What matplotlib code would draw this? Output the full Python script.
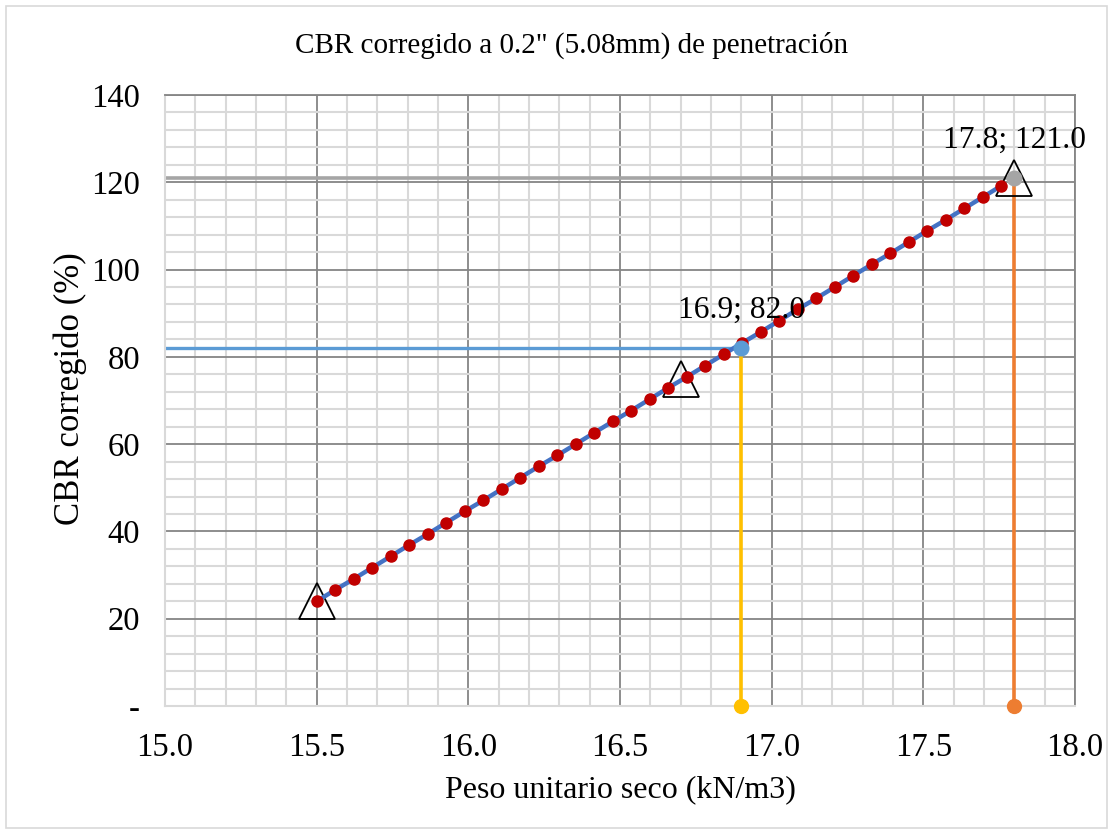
import numpy as np
import matplotlib
matplotlib.use("Agg")
import matplotlib.pyplot as plt
from matplotlib.ticker import MultipleLocator, FixedLocator, FixedFormatter
from matplotlib.patches import Rectangle

plt.rcParams["font.family"] = ["Liberation Serif", "DejaVu Serif"]

fit_x = [15.500, 15.561, 15.622, 15.683, 15.744, 15.805, 15.866, 15.927, 15.988, 16.049,
         16.110, 16.171, 16.232, 16.293, 16.354, 16.415, 16.476, 16.537, 16.598, 16.659,
         16.720, 16.781, 16.842, 16.903, 16.964, 17.025, 17.086, 17.147, 17.208, 17.269,
         17.330, 17.391, 17.452, 17.513, 17.574, 17.635, 17.696, 17.757]
fit_y = [24.0, 26.6, 29.1, 31.7, 34.3, 36.9, 39.4, 42.0, 44.6, 47.1,
         49.7, 52.3, 54.9, 57.4, 60.0, 62.6, 65.2, 67.7, 70.3, 72.9,
         75.4, 78.0, 80.6, 83.2, 85.7, 88.3, 90.9, 93.4, 96.0, 98.6,
         101.2, 103.7, 106.3, 108.9, 111.4, 114.0, 116.6, 119.2]

# lab test points (triangles)
test_x = [15.5, 16.7, 17.8]
test_y = [24.0, 75.0, 121.0]

# design points
p95_x, p95_y = 16.9, 82.0     # 95% MDD
p100_x, p100_y = 17.8, 121.0  # 100% MDD

x_ticks = [15.0, 15.5, 16.0, 16.5, 17.0, 17.5, 18.0]
y_ticks = [0, 20, 40, 60, 80, 100, 120, 140]
y_ticklabels = ["-", "20", "40", "60", "80", "100", "120", "140"]

fig = plt.figure(figsize=(11.13, 8.34), dpi=100)
ax = fig.add_axes([165 / 1113, 1 - 706 / 834, (1075 - 165) / 1113, (706 - 95) / 834])

ax.set_xlim(15.0, 18.0)
ax.set_ylim(0, 140)
ax.xaxis.set_major_locator(FixedLocator(x_ticks))
ax.set_xticklabels([f"{v:.1f}" for v in x_ticks])
ax.yaxis.set_major_locator(FixedLocator(y_ticks))
ax.yaxis.set_major_formatter(FixedFormatter(y_ticklabels))
ax.xaxis.set_minor_locator(MultipleLocator(0.1))
ax.yaxis.set_minor_locator(MultipleLocator(4))
ax.grid(True, which="minor", color="#D9D9D9", lw=1.5, zorder=0)
ax.grid(True, which="major", color="#858585", lw=1.3, zorder=0)
ax.set_axisbelow(True)
ax.tick_params(which="both", length=0, labelsize=23.5)
ax.tick_params(axis="x", pad=19)
ax.tick_params(axis="y", pad=18)
for s in ("left", "bottom"):
    ax.spines[s].set_color("#D9D9D9")
    ax.spines[s].set_linewidth(1.5)
for s in ("top", "right"):
    ax.spines[s].set_color("#858585")
    ax.spines[s].set_linewidth(1.3)

# reference lines
ax.plot([15.0, p100_x], [p100_y, p100_y], color="#A5A5A5", lw=2.6, zorder=2)
ax.plot([15.0, p95_x], [p95_y, p95_y], color="#5B9BD5", lw=2.4, zorder=2)
ax.plot([p95_x, p95_x], [0, p95_y], color="#FFC000", lw=2.6, zorder=2)
ax.plot([p100_x, p100_x], [0, p100_y], color="#ED7D31", lw=2.6, zorder=2)
ax.plot([p95_x], [0], "o", color="#FFC000", ms=10, zorder=3, clip_on=False)
ax.plot([p100_x], [0], "o", color="#ED7D31", ms=10, zorder=3, clip_on=False)

# test triangles
ax.plot(test_x, test_y, "^", ms=26, mfc="none", mec="black", mew=1.3, ls="none", zorder=3)

# fitted line with markers
ax.plot(fit_x, fit_y, "-", color="#4472C4", lw=3.2, zorder=4)
ax.plot(fit_x, fit_y, "o", color="#C00000", ms=8, ls="none", zorder=5)

ax.plot([p95_x], [p95_y], "o", color="#5B9BD5", ms=10.5, zorder=6)
ax.plot([p100_x], [p100_y], "o", color="#A5A5A5", ms=10.5, zorder=6)

ax.annotate(f"{p95_x:.1f}; {p95_y:.1f}", (p95_x, p95_y), textcoords="offset points",
            xytext=(0, 27), ha="center", va="center", fontsize=22.7, zorder=7)
ax.annotate(f"{p100_x:.1f}; {p100_y:.1f}", (p100_x, p100_y), textcoords="offset points",
            xytext=(0, 27), ha="center", va="center", fontsize=22.7, zorder=7,
            annotation_clip=False)

ax.set_xlabel("Peso unitario seco (kN/m3)", fontsize=23, labelpad=9)
ax.set_ylabel("CBR corregido (%)", fontsize=25)
ax.yaxis.set_label_coords(-0.086, 0.52)
fig.text(572 / 1113, 1 - 45 / 834, "CBR corregido a 0.2\" (5.08mm) de penetración",
         ha="center", va="center", fontsize=21)

fig.patches.append(Rectangle((6 / 1113, 6 / 834), 1 - 12 / 1113, 1 - 12 / 834,
                             transform=fig.transFigure, fill=False, ec="#D9D9D9", lw=1.2))

fig.savefig("out.png", dpi=100)
